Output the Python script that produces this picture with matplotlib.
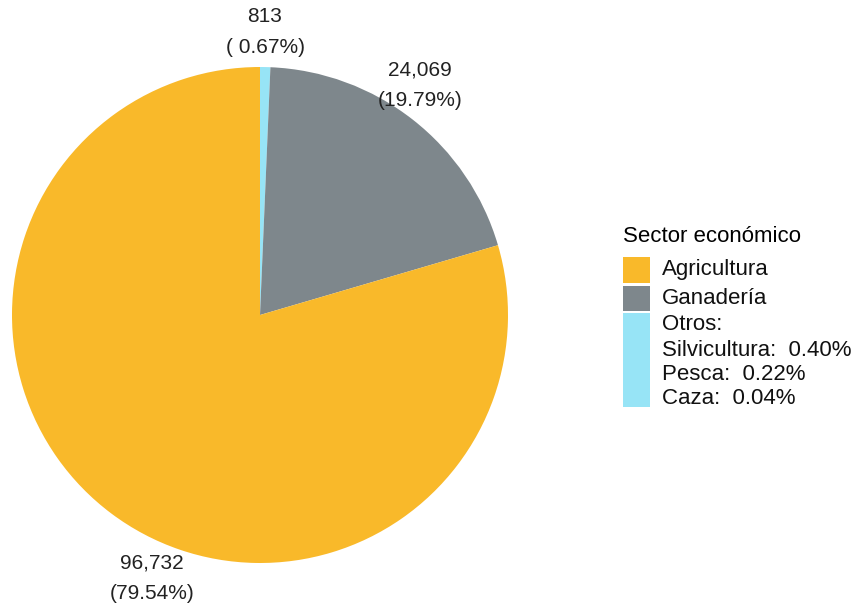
import matplotlib.pyplot as plt
from matplotlib.patches import Rectangle

plt.rcParams['font.family'] = ['Liberation Sans', 'DejaVu Sans']

# datos
sectores = ['Otros', 'Ganadería', 'Agricultura']
valores = [813, 24069, 96732]
colores = ['#97E4F6', '#7E878C', '#F9B92A']
leyenda_sectores = ['Agricultura', 'Ganadería', 'Otros']
otros_detalle = ['Silvicultura:  0.40%', 'Pesca:  0.22%', 'Caza:  0.04%']

W, H = 861, 608
CX, CY, R = 260, 315, 248  # centro y radio en pixeles


def px(x, y):
    # pixel de la imagen -> coordenadas de datos (radio = 1)
    return (x - CX) / R, (CY - y) / R


fig = plt.figure(figsize=(W / 100, H / 100), dpi=100)
ax = fig.add_axes([0, 0, 1, 1])

ax.pie(valores, colors=colores, startangle=90, counterclock=False,
       radius=1, wedgeprops=dict(linewidth=0))
ax.set_aspect('auto')
ax.set_xlim(-CX / R, (W - CX) / R)
ax.set_ylim(-(H - CY) / R, CY / R)
ax.axis('off')

total = sum(valores)
# posicion de etiquetas (pixeles)
pos_etiquetas = [(265, 32), (420, 85), (152, 578)]
for v, (x, y) in zip(valores, pos_etiquetas):
    pct = 100 * v / total
    txt = '{:,}\n({:5.2f}%)'.format(v, pct)
    ax.text(*px(x, y), txt, ha='center', va='center', fontsize=15,
            linespacing=1.75, color='#222222')

# leyenda manual
ax.text(*px(623, 236), 'Sector económico', ha='left', va='center', fontsize=16)
cajas = [(257, 283), (286, 311), (313, 407)]
for (y0, y1), c in zip(cajas, [colores[2], colores[1], colores[0]]):
    x0, yy0 = px(623, y1)
    x1, yy1 = px(650, y0)
    ax.add_patch(Rectangle((x0, yy0), x1 - x0, yy1 - yy0, color=c, lw=0))
lineas = leyenda_sectores[:2] + [leyenda_sectores[2] + ':'] + otros_detalle
ys = [270, 298, 325, 350, 374, 398]
for t, y in zip(lineas, ys):
    ax.text(*px(662, y), t, ha='left', va='center', fontsize=16, color='#111111')

plt.savefig('out.png', dpi=100)
